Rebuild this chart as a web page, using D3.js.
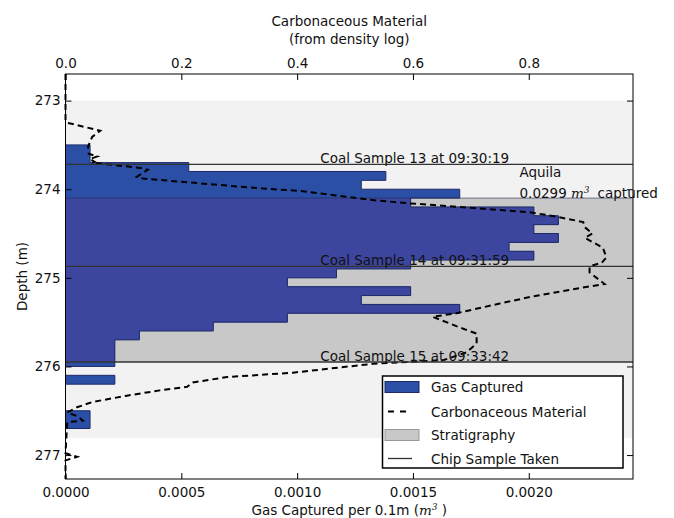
<!DOCTYPE html>
<html><head><meta charset="utf-8">
<script src="https://cdn.jsdelivr.net/npm/d3@7"></script>
<style>
body{margin:0;background:#fff}
svg{display:block}
text{font-family:"DejaVu Sans",sans-serif;font-size:13.5px;fill:#111}
</style>
</head><body>
<svg id="chart" width="674" height="518"></svg>
<script>
// ---- data ----
const binTops = [273.5,273.6,273.7,273.8,273.9,274.0,274.1,274.2,274.3,274.4,274.5,274.6,274.7,274.8,274.9,275.0,
                 275.1,275.2,275.3,275.4,275.5,275.6,275.7,275.8,275.9,276.0,276.1,276.2,276.3,276.4,276.5,276.6];
const gasValues = [0.000106,0.000106,0.000532,0.001383,0.001277,0.001702,0.00149,0.002022,0.002128,0.002022,0.002128,0.001915,
                   0.002022,0.00149,0.00117,0.000958,0.00149,0.001277,0.001702,0.000958,0.000638,0.000319,0.000213,0.000213,
                   0.000213,0,0.000213,0,0,0,0.000106,0.000106];
const binSize = 0.1;
const carbonDepth = [272.70,273.22,273.25,273.34,273.41,273.52,273.60,273.63,273.66,273.69,273.70,273.76,273.78,273.86,273.88,
                     273.99,274.02,274.07,274.12,274.16,274.20,274.26,274.31,274.37,274.43,274.50,274.55,274.66,274.77,274.83,
                     274.87,274.94,275.07,275.11,275.21,275.29,275.40,275.44,275.56,275.63,275.74,275.84,275.93,275.97,276.07,
                     276.12,276.18,276.23,276.27,276.33,276.40,276.46,276.52,276.56,276.61,276.63,276.98,277.02,277.06,277.27];
const carbonValue = [0,0,0.003,0.06,0.046,0.039,0.040,0.055,0.042,0.05,0.046,0.13,0.142,0.123,0.134,
                     0.336,0.405,0.467,0.526,0.595,0.681,0.802,0.848,0.894,0.897,0.91,0.897,0.928,0.934,0.926,
                     0.905,0.905,0.931,0.893,0.807,0.75,0.675,0.634,0.681,0.71,0.71,0.693,0.652,0.531,0.393,
                     0.279,0.22,0.21,0.163,0.106,0.047,0.02,0.003,0.02,0.03,0.003,0,0.02,0,0];
const sampleDepths = [273.72, 274.87, 275.95];
const sampleLabels = ["Coal Sample 13 at 09:30:19","Coal Sample 14 at 09:31:59","Coal Sample 15 at 09:33:42"];
const strataLight = [273.0, 276.81];
const strataCoal = [274.10, 275.95];
const gasTicks = [0, 0.0005, 0.0010, 0.0015, 0.0020];
const carbonTicks = [0, 0.2, 0.4, 0.6, 0.8];
const depthTicks = [273, 274, 275, 276, 277];
const siteName = "Aquila";
const totalGas = "0.0299";
const legendLabels = ["Gas Captured","Carbonaceous Material","Stratigraphy","Chip Sample Taken"];

// ---- layout ----
const L = 65.5, R = 633, T = 74, B = 479;
const svg = d3.select("#chart");
const y = d3.scaleLinear().domain([272.70, 277.27]).range([T, B]);
const xGas = d3.scaleLinear().domain([0, 0.00245]).range([L, R]);
const xCarb = d3.scaleLinear().domain([0, 0.98]).range([L, R]);

const blue = "#2c4fa6", bluePurple = "#3d469f", edge = "#1c2a66";

// stratigraphy backgrounds
svg.append("rect").attr("x", L).attr("width", R - L)
  .attr("y", y(strataLight[0])).attr("height", y(strataLight[1]) - y(strataLight[0]))
  .attr("fill", "#f2f2f2");
svg.append("rect").attr("x", L).attr("width", R - L)
  .attr("y", y(strataCoal[0])).attr("height", y(strataCoal[1]) - y(strataCoal[0]))
  .attr("fill", "#c8c8c8");

// gas step profile
const steps = [[0, binTops[0]]];
binTops.forEach((d, i) => { steps.push([gasValues[i], d]); steps.push([gasValues[i], d + binSize]); });
steps.push([0, binTops[binTops.length - 1] + binSize]);
const area = d3.area().y(d => y(d[1])).x0(xGas(0)).x1(d => xGas(d[0]));
const line = d3.line().y(d => y(d[1])).x(d => xGas(d[0]));

svg.append("clipPath").attr("id", "coalclip").append("rect")
  .attr("x", L).attr("width", R - L)
  .attr("y", y(strataCoal[0])).attr("height", y(strataCoal[1]) - y(strataCoal[0]));

svg.append("path").datum(steps).attr("d", area).attr("fill", blue);
svg.append("path").datum(steps).attr("d", area).attr("fill", bluePurple).attr("clip-path", "url(#coalclip)");
svg.append("path").datum(steps).attr("d", line).attr("fill", "none").attr("stroke", edge).attr("stroke-width", 1);

// edge of coal band over bars
svg.append("line").attr("x1", L).attr("x2", R)
  .attr("y1", y(strataCoal[0])).attr("y2", y(strataCoal[0]))
  .attr("stroke", "#222a55").attr("stroke-opacity", 0.6).attr("stroke-width", 1);

// carbonaceous curve
const carbPts = carbonDepth.map((d, i) => [carbonValue[i], d]);
svg.append("path").datum(carbPts)
  .attr("d", d3.line().x(d => xCarb(d[0])).y(d => y(d[1])))
  .attr("fill", "none").attr("stroke", "#000").attr("stroke-width", 2)
  .attr("stroke-dasharray", "6,4");

// chip sample lines + labels
sampleDepths.forEach((d, i) => {
  svg.append("line").attr("x1", L).attr("x2", R).attr("y1", y(d)).attr("y2", y(d))
    .attr("stroke", "#333").attr("stroke-width", 1.3);
  svg.append("text").attr("x", xGas(0.0011)).attr("y", y(d) - 1.5).attr("fill", "#222").text(sampleLabels[i]);
});

// annotation
svg.append("text").attr("x", xGas(0.00196)).attr("y", 176.5).text(siteName);
const ann = svg.append("text").attr("x", xGas(0.00196)).attr("y", 197.5);
ann.append("tspan").text(totalGas + " ");
ann.append("tspan").attr("font-family", "DejaVu Serif, serif").attr("font-style", "italic").text("m");
ann.append("tspan").attr("font-family", "DejaVu Serif, serif").attr("font-style", "italic")
  .attr("font-size", "9px").attr("dy", -5).text("3");
ann.append("tspan").attr("dy", 5).attr("dx", 8).text("captured");

// axes
const gB = svg.append("g").attr("transform", `translate(0,${B})`)
  .call(d3.axisBottom(xGas).tickValues(gasTicks).tickFormat(d3.format(".4f")).tickSize(-6).tickPadding(8));
const gT = svg.append("g").attr("transform", `translate(0,${T})`)
  .call(d3.axisTop(xCarb).tickValues(carbonTicks).tickFormat(d3.format(".1f")).tickSize(-6).tickPadding(6));
const gL = svg.append("g").attr("transform", `translate(${L},0)`)
  .call(d3.axisLeft(y).tickValues(depthTicks).tickFormat(d3.format("d")).tickSize(-6).tickPadding(5));
const gR = svg.append("g").attr("transform", `translate(${R},0)`)
  .call(d3.axisRight(y).tickValues(depthTicks).tickFormat("").tickSize(-6));
[gB, gT, gL, gR].forEach(g => {
  g.select(".domain").remove();
  g.selectAll(".tick line").attr("stroke", "#000").attr("stroke-width", 1);
  g.selectAll(".tick text").attr("font-family", "DejaVu Sans").attr("font-size", "13.5px").attr("fill", "#111");
});
// frame
svg.append("rect").attr("x", L).attr("y", T).attr("width", R - L).attr("height", B - T)
  .attr("fill", "none").attr("stroke", "#000").attr("stroke-width", 1);

// axis titles
const xt = svg.append("text").attr("x", (L + R) / 2).attr("y", 515).attr("text-anchor", "middle");
xt.append("tspan").text("Gas Captured per 0.1m (");
xt.append("tspan").attr("font-family", "DejaVu Serif, serif").attr("font-style", "italic").text("m");
xt.append("tspan").attr("font-family", "DejaVu Serif, serif").attr("font-style", "italic")
  .attr("font-size", "9px").attr("dy", -5).text("3");
xt.append("tspan").attr("dy", 5).text(" )");
svg.append("text").attr("x", (L + R) / 2).attr("y", 25.5).attr("text-anchor", "middle").text("Carbonaceous Material");
svg.append("text").attr("x", (L + R) / 2).attr("y", 44).attr("text-anchor", "middle").text("(from density log)");
svg.append("text").attr("transform", `translate(26.5,${(T + B) / 2}) rotate(-90)`)
  .attr("text-anchor", "middle").text("Depth (m)");

// legend
const lg = svg.append("g").attr("transform", "translate(382.5,376)");
lg.append("rect").attr("width", 240.5).attr("height", 92).attr("fill", "#fff").attr("stroke", "#000").attr("stroke-width", 1.5);
const rowY = [11, 35.5, 59, 82.5];
lg.append("rect").attr("x", 2.5).attr("y", rowY[0] - 5.5).attr("width", 34).attr("height", 11)
  .attr("fill", blue).attr("stroke", edge).attr("stroke-width", 1);
lg.append("line").attr("x1", 5.5).attr("x2", 29.5).attr("y1", rowY[1]).attr("y2", rowY[1])
  .attr("stroke", "#000").attr("stroke-width", 2).attr("stroke-dasharray", "6,6");
lg.append("rect").attr("x", 2.5).attr("y", rowY[2] - 5.5).attr("width", 34).attr("height", 11)
  .attr("fill", "#c8c8c8").attr("stroke", "#999").attr("stroke-width", 1);
lg.append("line").attr("x1", 5.5).attr("x2", 29.5).attr("y1", rowY[3]).attr("y2", rowY[3])
  .attr("stroke", "#333").attr("stroke-width", 1.3);
legendLabels.forEach((t, i) => {
  lg.append("text").attr("x", 48.5).attr("y", rowY[i] + 5).attr("font-size", "14.5px").text(t);
});
</script>
</body></html>
